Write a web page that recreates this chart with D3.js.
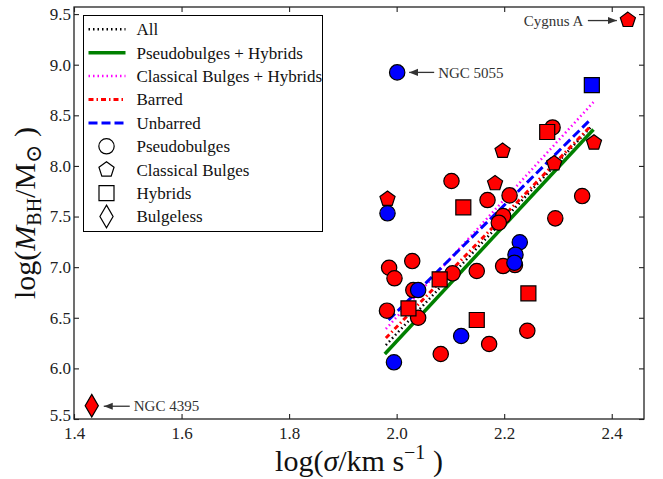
<!DOCTYPE html>
<html>
<head>
<meta charset="utf-8">
<script src="https://cdn.jsdelivr.net/npm/d3@7"></script>
<style>
  body { margin: 0; background: #fff; }
  text { font-family: "Liberation Serif", "DejaVu Serif", serif; }
</style>
</head>
<body>
<script>
// log(sigma), log(M_BH) pairs, grouped by bulge type and bar
var pseudoBarred = [
  [2.290, 8.38], [2.102, 7.851], [2.169, 7.663], [2.210, 7.709], [2.345, 7.702],
  [2.198, 7.505], [2.190, 7.439], [2.295, 7.482], [2.220, 7.021], [2.198, 7.011],
  [2.149, 6.962], [2.104, 6.939], [2.029, 7.060], [1.986, 6.994], [1.996, 6.890],
  [2.031, 6.774], [1.982, 6.570], [2.040, 6.500], [2.172, 6.241], [2.243, 6.372],
  [2.082, 6.142]
];
var pseudoUnbarred = [
  [1.983, 7.532], [2.229, 7.246], [2.221, 7.123], [2.219, 7.044], [2.040, 6.774],
  [2.120, 6.320], [1.995, 6.060], [2.001, 8.924]
];
var hybridBarred = [
  [2.280, 8.335], [2.124, 7.591], [2.080, 6.880], [2.022, 6.593], [2.245, 6.741],
  [2.149, 6.478]
];
var hybridUnbarred = [[2.363, 8.799]];
var classicalBarred = [
  [2.197, 8.147], [2.367, 8.229], [2.293, 8.025], [2.183, 7.828], [1.983, 7.673],
  [2.430, 9.441]
];
var bulgelessBarred = [[1.433, 5.631]];

// fitted relations (end points)
var fitAll = [[1.98, 6.23], [2.364, 8.40]];
var fitPseudoHybrid = [[1.978, 6.142], [2.366, 8.36]];
var fitClassicalHybrid = [[1.98, 6.39], [2.366, 8.63]];
var fitBarred = [[1.98, 6.30], [2.362, 8.40]];
var fitUnbarred = [[1.985, 6.478], [2.357, 8.44]];

var xTicks = [1.4, 1.6, 1.8, 2.0, 2.2, 2.4];
var yTicks = [5.5, 6.0, 6.5, 7.0, 7.5, 8.0, 8.5, 9.0, 9.5];

var lineLabels = ["All", "Pseudobulges + Hybrids", "Classical Bulges + Hybrids", "Barred", "Unbarred"];
var markerLabels = ["Pseudobulges", "Classical Bulges", "Hybrids", "Bulgeless"];

var notes = [
  { name: "Cygnus A", pt: [2.430, 9.441] },
  { name: "NGC 5055", pt: [2.001, 8.924] },
  { name: "NGC 4395", pt: [1.433, 5.631] }
];

var svgWidth = 663;
var svgHeight = 479;
var margin = { top: 7, right: 19, bottom: 60, left: 74 };
var width = svgWidth - margin.left - margin.right;
var height = svgHeight - margin.top - margin.bottom;

var svg = d3.select("body").append("svg")
  .attr("width", svgWidth)
  .attr("height", svgHeight);

var defs = svg.append("defs");
defs.append("marker")
  .attr("id", "arrow")
  .attr("viewBox", "0 0 10 10")
  .attr("refX", 10).attr("refY", 5)
  .attr("markerWidth", 9).attr("markerHeight", 9)
  .attr("markerUnits", "userSpaceOnUse")
  .attr("orient", "auto")
  .append("path")
  .attr("d", "M0,1 L10,5 L0,9 Z")
  .attr("fill", "#333");

var chart = svg.append("g")
  .attr("transform", `translate(${margin.left}, ${margin.top})`);

var x = d3.scaleLinear().domain([1.4, 2.46]).range([0, width]);
var y = d3.scaleLinear().domain([5.5, 9.57]).range([height, 0]);

// pentagon symbol (point up), size ~ area like d3 symbols
var symbolPentagon = {
  draw: function(context, size) {
    var r = Math.sqrt(size / 2.3776);
    for (var i = 0; i < 5; i++) {
      var a = -Math.PI / 2 + i * 2 * Math.PI / 5;
      var px = r * Math.cos(a), py = r * Math.sin(a);
      if (i === 0) context.moveTo(px, py); else context.lineTo(px, py);
    }
    context.closePath();
  }
};

var shapes = {
  circle: d3.symbol().type(d3.symbolCircle).size(185),
  square: d3.symbol().type(d3.symbolSquare).size(225),
  pentagon: d3.symbol().type(symbolPentagon).size(150),
  diamond: d3.symbol().type(d3.symbolDiamond).size(150)
};

// fit lines
var lineStyles = [
  { data: fitPseudoHybrid, color: "#008000", w: 3.5, dash: null },
  { data: fitAll, color: "#000", w: 2.5, dash: "1.5,3" },
  { data: fitClassicalHybrid, color: "#ff00ff", w: 2.5, dash: "1.5,3" },
  { data: fitBarred, color: "#ff0000", w: 3, dash: "5,3,1.5,3" },
  { data: fitUnbarred, color: "#0000ff", w: 3, dash: "9,4" }
];

var line = d3.line().x(d => x(d[0])).y(d => y(d[1]));

chart.selectAll(".fit")
  .data(lineStyles)
  .enter()
  .append("path")
  .attr("class", "fit")
  .attr("d", d => line(d.data))
  .attr("fill", "none")
  .attr("stroke", d => d.color)
  .attr("stroke-width", d => d.w)
  .attr("stroke-dasharray", d => d.dash);

// points
var groups = [
  { data: pseudoBarred, shape: "circle", fill: "#ff0000" },
  { data: pseudoUnbarred, shape: "circle", fill: "#0000ff" },
  { data: hybridBarred, shape: "square", fill: "#ff0000" },
  { data: hybridUnbarred, shape: "square", fill: "#0000ff" },
  { data: classicalBarred, shape: "pentagon", fill: "#ff0000" },
  { data: bulgelessBarred, shape: "diamond", fill: "#ff0000" }
];

groups.forEach(function(g) {
  chart.selectAll(null)
    .data(g.data)
    .enter()
    .append("path")
    .attr("d", shapes[g.shape])
    .attr("transform", d => `translate(${x(d[0])}, ${y(d[1])})`)
    .attr("fill", g.fill)
    .attr("stroke", "#000")
    .attr("stroke-width", 1.2);
});

// annotations
var noteOffsets = {
  "Cygnus A": { textX: -104, arrowFrom: -40, arrowTo: -11, dy: 0.5 },
  "NGC 5055": { textX: 41, arrowFrom: 37, arrowTo: 12, dy: 0 },
  "NGC 4395": { textX: 42, arrowFrom: 38, arrowTo: 12, dy: 0.5 }
};

notes.forEach(function(n) {
  var o = noteOffsets[n.name];
  var px = x(n.pt[0]), py = y(n.pt[1]) + o.dy;
  chart.append("line")
    .attr("x1", px + o.arrowFrom).attr("y1", py)
    .attr("x2", px + o.arrowTo).attr("y2", py)
    .attr("stroke", "#333")
    .attr("stroke-width", 1.3)
    .attr("marker-end", "url(#arrow)");
  chart.append("text")
    .attr("x", px + o.textX)
    .attr("y", py)
    .attr("dy", "0.35em")
    .attr("font-size", "15px")
    .attr("fill", "#333")
    .text(n.name);
});

// axes, ticks inward on all four sides
var axisFont = "17px";
var axBottom = chart.append("g")
  .attr("transform", `translate(0, ${height})`)
  .call(d3.axisBottom(x).tickValues(xTicks).tickFormat(d3.format(".1f"))
    .tickSizeInner(-5).tickSizeOuter(0).tickPadding(8));
var axTop = chart.append("g")
  .call(d3.axisTop(x).tickValues(xTicks).tickFormat("")
    .tickSizeInner(-5).tickSizeOuter(0));
var axLeft = chart.append("g")
  .call(d3.axisLeft(y).tickValues(yTicks).tickFormat(d3.format(".1f"))
    .tickSizeInner(-5).tickSizeOuter(0).tickPadding(3));
var axRight = chart.append("g")
  .attr("transform", `translate(${width}, 0)`)
  .call(d3.axisRight(y).tickValues(yTicks).tickFormat("")
    .tickSizeInner(-5).tickSizeOuter(0));

[axBottom, axTop, axLeft, axRight].forEach(function(a) {
  a.select(".domain").remove();
  a.selectAll(".tick line").attr("stroke", "#222").attr("stroke-width", 1.1);
  a.selectAll(".tick text")
    .attr("font-family", "Liberation Serif, serif")
    .attr("font-size", axisFont)
    .attr("fill", "#222");
});
// lowest y label sits a touch higher so it clears the "1.4" below it
axLeft.selectAll(".tick text").filter(d => d === 5.5).attr("dy", "0.1em");

chart.append("rect")
  .attr("width", width)
  .attr("height", height)
  .attr("fill", "none")
  .attr("stroke", "#222")
  .attr("stroke-width", 1.3);

// legend
var legend = chart.append("g")
  .attr("transform", `translate(${83.5 - margin.left}, ${15.5 - margin.top})`);

legend.append("rect")
  .attr("width", 239)
  .attr("height", 216)
  .attr("fill", "#fff")
  .attr("stroke", "#000")
  .attr("stroke-width", 1);

var rowH = 23.4;
var legendLines = [lineStyles[1], lineStyles[0], lineStyles[2], lineStyles[3], lineStyles[4]];

legendLines.forEach(function(s, i) {
  var yy = 13.8 + i * rowH;
  legend.append("line")
    .attr("x1", 5).attr("x2", 42)
    .attr("y1", yy).attr("y2", yy)
    .attr("stroke", s.color)
    .attr("stroke-width", s.w)
    .attr("stroke-dasharray", s.dash);
  legend.append("text")
    .attr("x", 53).attr("y", yy)
    .attr("dy", "0.35em")
    .attr("font-size", "17px")
    .attr("fill", "#111")
    .text(lineLabels[i]);
});

["circle", "pentagon", "square", "diamond"].forEach(function(sh, i) {
  var yy = 13.8 + (i + 5) * rowH;
  legend.append("path")
    .attr("d", shapes[sh])
    .attr("transform", `translate(23, ${yy})`)
    .attr("fill", "#fff")
    .attr("stroke", "#000")
    .attr("stroke-width", 1.2);
  legend.append("text")
    .attr("x", 53).attr("y", yy)
    .attr("dy", "0.35em")
    .attr("font-size", "17px")
    .attr("fill", "#111")
    .text(markerLabels[i]);
});

// axis titles
var xt = svg.append("text")
  .attr("x", margin.left + width / 2)
  .attr("y", 471)
  .attr("text-anchor", "middle")
  .attr("font-size", "30px")
  .attr("fill", "#111");
xt.append("tspan").text("log(");
xt.append("tspan").attr("font-style", "italic").text("σ");
xt.append("tspan").text("/km s");
xt.append("tspan").attr("font-size", "20px").attr("dy", "-12").text("−1");
xt.append("tspan").attr("dy", "12").text(" )");

var yt = svg.append("text")
  .attr("transform", `translate(35, ${margin.top + height / 2}) rotate(-90)`)
  .attr("text-anchor", "middle")
  .attr("font-size", "30px")
  .attr("fill", "#111");
yt.append("tspan").text("log(");
yt.append("tspan").attr("font-style", "italic").text("M");
yt.append("tspan").attr("font-size", "20px").attr("dy", "6").text("BH");
yt.append("tspan").attr("dy", "-6").text("/M");
yt.append("tspan").attr("font-size", "22px").attr("dy", "6").text("⊙");
yt.append("tspan").attr("dy", "-6").text(" )");
</script>
</body>
</html>
